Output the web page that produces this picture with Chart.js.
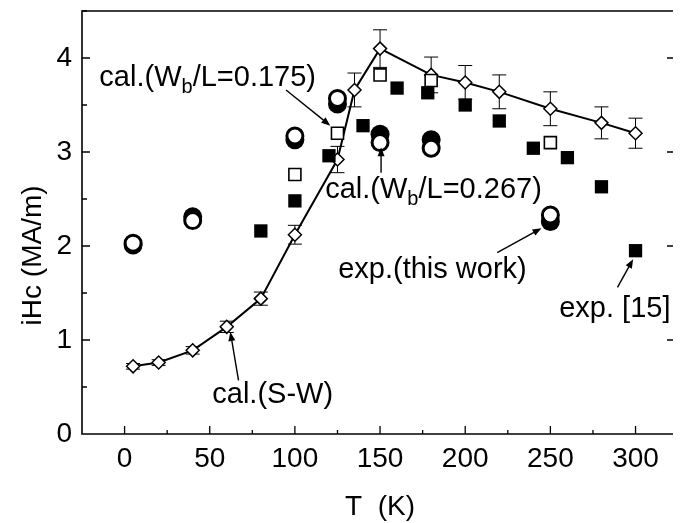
<!DOCTYPE html>
<html>
<head>
<meta charset="utf-8">
<script src="https://cdn.jsdelivr.net/npm/chart.js@4.4.1/dist/chart.umd.min.js"></script>
<style>
  html, body { margin: 0; padding: 0; background: #fff; }
  #wrap { width: 684px; height: 523px; }
</style>
</head>
<body>
<div id="wrap"><canvas id="chart" width="684" height="523"></canvas></div>
<script>
// --- data ---
const swT = [5, 20, 40, 60, 80, 100, 125, 135, 150, 180, 200, 220, 250, 280, 300];
const swHc = [0.72, 0.76, 0.89, 1.14, 1.44, 2.12, 2.92, 3.66, 4.10, 3.82, 3.74, 3.64, 3.46, 3.31, 3.20];
const swErr = [0.03, 0.03, 0.04, 0.06, 0.07, 0.10, 0.14, 0.18, 0.20, 0.19, 0.18, 0.18, 0.18, 0.17, 0.16];

const cal175T = [100, 125, 150, 180, 250];
const cal175Hc = [2.76, 3.20, 3.82, 3.76, 3.10];

const ref15T = [80, 100, 120, 140, 160, 178, 200, 220, 240, 260, 280, 300];
const ref15Hc = [2.16, 2.48, 2.96, 3.28, 3.68, 3.63, 3.50, 3.33, 3.04, 2.94, 2.63, 1.95];

const expT = [5, 40, 100, 125, 150, 180, 250];
const expHc = [2.01, 2.31, 3.13, 3.51, 3.19, 3.13, 2.26];

const cal267T = [5, 40, 100, 125, 150, 180, 250];
const cal267Hc = [2.03, 2.27, 3.17, 3.57, 3.10, 3.04, 2.33];

const xTicks = [0, 50, 100, 150, 200, 250, 300];
const yTicks = [0, 1, 2, 3, 4];

// annotations (in data units), "_b" means subscript b
const noteText = ['cal.(W_b/L=0.175)', 'cal.(W_b/L=0.267)', 'exp.(this work)', 'exp. [15]', 'cal.(S-W)'];
const noteT = [-14.8, 117.8, 125.4, 255.2, 51.5];
const noteHc = [3.70, 2.51, 1.655, 1.24, 0.33];
const arrowFromT = [94.8, 150.6, 218.8, 289.4, 66.9];
const arrowFromHc = [3.66, 2.78, 1.93, 1.56, 0.57];
const arrowToT = [120.8, 150.6, 244.8, 298.6, 62.1];
const arrowToHc = [3.28, 3.05, 2.19, 1.86, 1.085];

const FONT = '"Liberation Sans", Arial, sans-serif';

function pts(xs, ys) {
    return xs.map((t, i) => ({ x: t, y: ys[i] }));
}

// text with simple subscripts
function drawRich(ctx, text, x, y, size) {
    const parts = text.split(/_(\w)/);
    let cx = x;
    parts.forEach((p, i) => {
        const sub = i % 2 === 1;
        ctx.font = (sub ? Math.round(size * 0.7) : size) + 'px ' + FONT;
        ctx.fillText(p, cx, sub ? y + size * 0.25 : y);
        cx += ctx.measureText(p).width;
    });
}

// --- plugins ---
const errorBars = {
    id: 'errorBars',
    beforeDatasetsDraw(chart) {
        const { ctx, scales: { x, y } } = chart;
        ctx.save();
        ctx.strokeStyle = '#000';
        ctx.lineWidth = 1;
        swT.forEach((t, i) => {
            const px = x.getPixelForValue(t);
            const top = y.getPixelForValue(swHc[i] + swErr[i]);
            const bot = y.getPixelForValue(swHc[i] - swErr[i]);
            ctx.beginPath();
            ctx.moveTo(px, top); ctx.lineTo(px, bot);
            ctx.moveTo(px - 7, top); ctx.lineTo(px + 7, top);
            ctx.moveTo(px - 7, bot); ctx.lineTo(px + 7, bot);
            ctx.stroke();
        });
        ctx.restore();
    }
};

const frame = {
    id: 'frame',
    afterDraw(chart) {
        const { ctx, chartArea: a, scales: { x, y } } = chart;
        ctx.save();
        ctx.strokeStyle = '#000';
        ctx.lineWidth = 1.6;
        ctx.beginPath();
        ctx.moveTo(a.right, a.top); ctx.lineTo(a.left, a.top);
        ctx.lineTo(a.left, a.bottom); ctx.lineTo(a.right, a.bottom);
        ctx.stroke();

        ctx.lineWidth = 1.3;
        ctx.beginPath();
        for (let v = 0; v <= x.max; v += 25) {
            const px = x.getPixelForValue(v);
            const len = v % 50 === 0 ? 8 : 4;
            ctx.moveTo(px, a.bottom); ctx.lineTo(px, a.bottom - len);
        }
        for (let v = 0.5; v <= y.max; v += 0.5) {
            const py = y.getPixelForValue(v);
            const major = Math.abs(v - Math.round(v)) < 1e-6;
            ctx.moveTo(a.left, py); ctx.lineTo(a.left + (major ? 8 : 5), py);
            if (major) { ctx.moveTo(a.right, py); ctx.lineTo(a.right - 6, py); }
        }
        ctx.stroke();

        // axis titles
        ctx.fillStyle = '#000';
        ctx.font = '28px ' + FONT;
        ctx.textAlign = 'center';
        ctx.textBaseline = 'middle';
        ctx.fillText('T  (K)', x.getPixelForValue(150), 507);
        ctx.save();
        ctx.translate(33, y.getPixelForValue(1.9));
        ctx.rotate(-Math.PI / 2);
        ctx.fillText('iHc (MA/m)', 0, 0);
        ctx.restore();

        // notes and arrows
        ctx.textAlign = 'left';
        ctx.textBaseline = 'alphabetic';
        noteText.forEach((s, i) => {
            drawRich(ctx, s, x.getPixelForValue(noteT[i]), y.getPixelForValue(noteHc[i]), 29);
        });
        ctx.lineWidth = 1.4;
        arrowFromT.forEach((t, i) => {
            const x0 = x.getPixelForValue(t), y0 = y.getPixelForValue(arrowFromHc[i]);
            const x1 = x.getPixelForValue(arrowToT[i]), y1 = y.getPixelForValue(arrowToHc[i]);
            const ang = Math.atan2(y1 - y0, x1 - x0);
            ctx.beginPath();
            ctx.moveTo(x0, y0); ctx.lineTo(x1 - 6 * Math.cos(ang), y1 - 6 * Math.sin(ang));
            ctx.stroke();
            ctx.beginPath();
            ctx.moveTo(x1, y1);
            ctx.lineTo(x1 - 9 * Math.cos(ang) + 3.5 * Math.sin(ang), y1 - 9 * Math.sin(ang) - 3.5 * Math.cos(ang));
            ctx.lineTo(x1 - 9 * Math.cos(ang) - 3.5 * Math.sin(ang), y1 - 9 * Math.sin(ang) + 3.5 * Math.cos(ang));
            ctx.closePath();
            ctx.fill();
        });
        ctx.restore();
    }
};

// --- chart ---
new Chart(document.getElementById('chart').getContext('2d'), {
    type: 'scatter',
    data: {
        datasets: [
            {
                label: 'cal.(S-W)', data: pts(swT, swHc), showLine: true,
                borderColor: '#000', borderWidth: 2,
                pointStyle: 'rectRot', pointRadius: 6.5,
                pointBackgroundColor: '#fff', pointBorderColor: '#000', pointBorderWidth: 1.5,
                order: 5
            },
            {
                label: 'exp. [15]', data: pts(ref15T, ref15Hc),
                pointStyle: 'rect', pointRadius: 9.4,
                pointBackgroundColor: '#000', pointBorderColor: '#000', pointBorderWidth: 0,
                order: 4
            },
            {
                label: 'cal.(Wb/L=0.175)', data: pts(cal175T, cal175Hc),
                pointStyle: 'rect', pointRadius: 8.5,
                pointBackgroundColor: '#fff', pointBorderColor: '#000', pointBorderWidth: 1.6,
                order: 3
            },
            {
                label: 'exp.(this work)', data: pts(expT, expHc),
                pointStyle: 'circle', pointRadius: 9.5,
                pointBackgroundColor: '#000', pointBorderColor: '#000', pointBorderWidth: 0,
                order: 2
            },
            {
                label: 'cal.(Wb/L=0.267)', data: pts(cal267T, cal267Hc),
                pointStyle: 'circle', pointRadius: 8,
                pointBackgroundColor: '#fff', pointBorderColor: '#000', pointBorderWidth: 3,
                order: 1
            }
        ]
    },
    options: {
        responsive: false,
        devicePixelRatio: 1,
        animation: false,
        layout: { padding: { top: 10, right: 0, left: 0, bottom: 0 } },
        plugins: { legend: { display: false }, tooltip: { enabled: false } },
        scales: {
            x: {
                type: 'linear', min: -25, max: 322,
                afterBuildTicks: s => { s.ticks = xTicks.map(v => ({ value: v })); },
                afterFit: s => { s.height = 89; s.paddingLeft = 0; s.paddingRight = 0; },
                grid: { display: false, drawTicks: false },
                border: { display: false },
                ticks: { color: '#000', padding: 8, maxRotation: 0, font: { family: FONT, size: 28 } }
            },
            y: {
                type: 'linear', min: 0, max: 4.5,
                afterBuildTicks: s => { s.ticks = yTicks.map(v => ({ value: v })); },
                afterFit: s => { s.width = 82; s.paddingTop = 0; s.paddingBottom = 0; },
                grid: { display: false, drawTicks: false },
                border: { display: false },
                ticks: { color: '#000', padding: 10, font: { family: FONT, size: 28 } }
            }
        }
    },
    plugins: [errorBars, frame]
});
</script>
</body>
</html>
